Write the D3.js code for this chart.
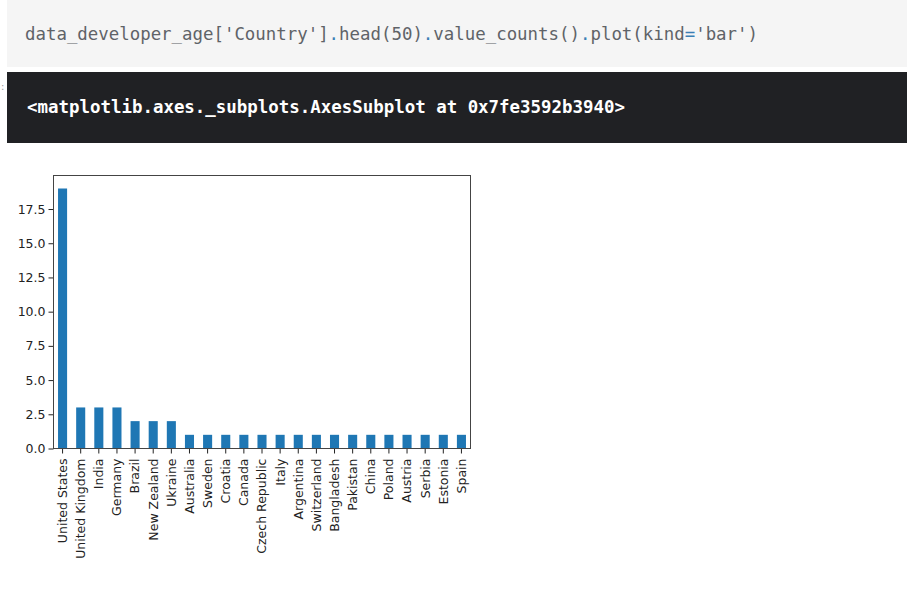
<!DOCTYPE html>
<html>
<head>
<meta charset="utf-8">
<script src="https://cdn.jsdelivr.net/npm/d3@7"></script>
<style>
  html, body { margin: 0; padding: 0; background: #ffffff; }
  svg { display: block; }
</style>
</head>
<body>
<svg id="chart" width="907" height="602"></svg>
<script>
// ---- data ----
const countries = ["United States","United Kingdom","India","Germany","Brazil","New Zealand","Ukraine","Australia","Sweden","Croatia","Canada","Czech Republic","Italy","Argentina","Switzerland","Bangladesh","Pakistan","China","Poland","Austria","Serbia","Estonia","Spain"];
const counts = [19,3,3,3,2,2,2,1,1,1,1,1,1,1,1,1,1,1,1,1,1,1,1];
const yTicks = [0,2.5,5,7.5,10,12.5,15,17.5];
const codeParts = [
  ["data_developer_age['Country']", "code"], [".", "op"], ["head(50)", "code"], [".", "op"],
  ["value_counts()", "code"], [".", "op"], ["plot(kind", "code"], ["=", "op"], ["'bar')", "code"]
];
const outputText = "<matplotlib.axes._subplots.AxesSubplot at 0x7fe3592b3940>";

const svg = d3.select("#chart");

// ---- notebook header ----
svg.append("rect").attr("x", 7).attr("y", 0).attr("width", 900).attr("height", 67)
  .attr("fill", "#f5f5f5");
const code = svg.append("text").attr("x", 25).attr("y", 40)
  .attr("font-family", "'DejaVu Sans Mono', monospace").attr("font-size", 17)
  .attr("textLength", 733).attr("lengthAdjust", "spacingAndGlyphs");
codeParts.forEach(([t, k]) => {
  code.append("tspan").text(t).attr("fill", k === "op" ? "#3b7fb5" : "#5f6368");
});

svg.append("rect").attr("x", 7).attr("y", 72).attr("width", 900).attr("height", 71)
  .attr("fill", "#202124");
svg.append("text").attr("x", 27).attr("y", 113)
  .attr("font-family", "'DejaVu Sans Mono', monospace").attr("font-size", 17)
  .attr("font-weight", "bold").attr("fill", "#ffffff")
  .attr("textLength", 598).attr("lengthAdjust", "spacingAndGlyphs")
  .text(outputText);
svg.append("text").attr("x", 1).attr("y", 90).attr("font-size", 10)
  .attr("font-family", "'DejaVu Sans', sans-serif").attr("fill", "#999").text(":");

// ---- chart ----
const L = 53.5, R = 470.5, T = 175.5, B = 448.5;
const x = d3.scaleBand().domain(countries).range([L, R]).paddingInner(0.5).paddingOuter(0.25);
const y = d3.scaleLinear().domain([0, 19.95]).range([B, T]);

const g = svg.append("g");
g.selectAll("rect.bar").data(countries).join("rect")
  .attr("class", "bar")
  .attr("x", d => x(d))
  .attr("width", x.bandwidth())
  .attr("y", (d, i) => y(counts[i]))
  .attr("height", (d, i) => y(0) - y(counts[i]))
  .attr("fill", "#1f77b4");

const yAxis = d3.axisLeft(y).tickValues(yTicks).tickFormat(d3.format(".1f")).tickSize(5).tickPadding(3);
const ya = g.append("g").attr("transform", `translate(${L},0)`).call(yAxis);
ya.select(".domain").remove();
ya.selectAll("line").attr("stroke", "#222");
ya.selectAll("text").attr("font-family", "'DejaVu Sans', sans-serif").attr("font-size", 12.5).attr("fill", "#222");

const xAxis = d3.axisBottom(x).tickSize(5).tickPadding(4);
const xa = g.append("g").attr("transform", `translate(0,${B})`).call(xAxis);
xa.select(".domain").remove();
xa.selectAll("line").attr("stroke", "#222");
xa.selectAll("text")
  .attr("font-family", "'DejaVu Sans', sans-serif").attr("font-size", 12.5).attr("fill", "#222")
  .attr("transform", "rotate(-90)")
  .attr("x", -10).attr("y", 0).attr("dy", "0.35em")
  .attr("text-anchor", "end");

// frame
g.append("rect").attr("x", L).attr("y", T).attr("width", R - L).attr("height", B - T)
  .attr("fill", "none").attr("stroke", "#444").attr("stroke-width", 1);
</script>
</body>
</html>
